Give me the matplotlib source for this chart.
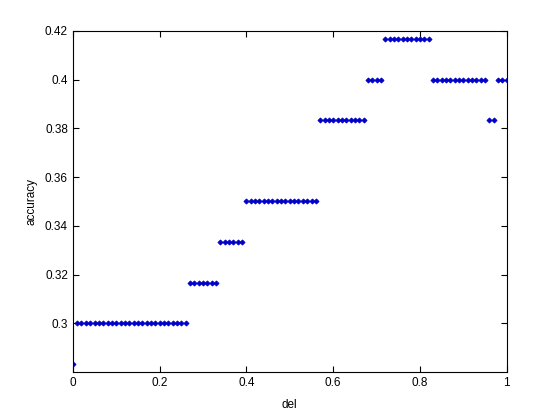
import numpy as np
import matplotlib.pyplot as plt

plt.rcParams['font.family'] = ['Liberation Sans', 'DejaVu Sans']

# accuracy plateaus (value, number of consecutive del steps of 0.01)
levels = [0.2833, 0.3, 0.3167, 0.3333, 0.35, 0.3833, 0.4, 0.4167, 0.4, 0.3833, 0.4]
counts = [1, 26, 7, 6, 17, 11, 4, 11, 13, 2, 3]

dele = np.arange(0, 101) / 100.0
accuracy = np.repeat(levels, counts)

fig = plt.figure(figsize=(5.6, 4.2), dpi=100)
ax = fig.add_axes([0.13, 0.1143, 0.775, 0.8119])
ax.plot(dele, accuracy, linestyle='none', marker='D', markersize=2.6,
        color='#0000c8', markeredgewidth=0.6)

ax.set_xlim(0, 1)
ax.set_ylim(0.28, 0.42)
ax.set_xticks([0, 0.2, 0.4, 0.6, 0.8, 1])
ax.set_xticklabels(['0', '0.2', '0.4', '0.6', '0.8', '1'])
ax.set_yticks([0.3, 0.32, 0.34, 0.36, 0.38, 0.4, 0.42])
ax.set_yticklabels(['0.3', '0.32', '0.34', '0.36', '0.38', '0.4', '0.42'])
ax.tick_params(direction='in', top=True, right=True, labelsize=8.5, length=4)
ax.set_xlabel('del', fontsize=8.5, labelpad=7)
ax.set_ylabel('accuracy', fontsize=8.5, labelpad=5)

fig.savefig('out.png', dpi=100)
